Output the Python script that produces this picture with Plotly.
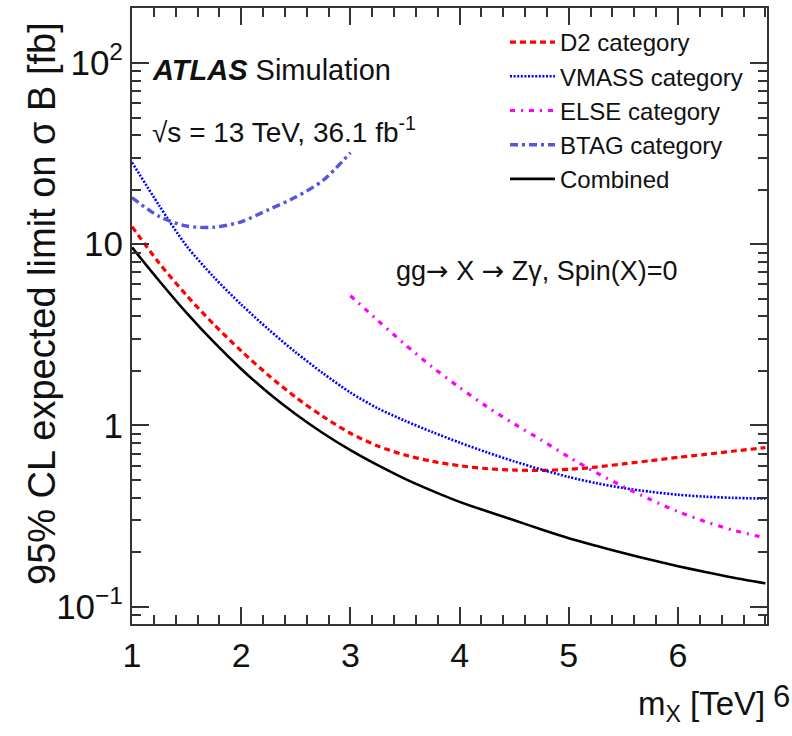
import plotly.graph_objects as go

# ---- data ----
mass_main = [1.0, 1.25, 1.5, 1.75, 2.0, 2.25, 2.5, 2.75, 3.0, 3.25, 3.5, 3.75, 4.0, 4.25,
             4.5, 4.75, 5.0, 5.25, 5.5, 5.75, 6.0, 6.25, 6.5, 6.8]
d2_limit = [12.5, 7.85, 5.22, 3.61, 2.58, 1.89, 1.43, 1.12, 0.906, 0.771, 0.687, 0.634, 0.60, 0.578,
            0.568, 0.565, 0.573, 0.59, 0.614, 0.64, 0.667, 0.693, 0.721, 0.755]
vmass_limit = [28.3, 16.3, 9.77, 6.58, 4.65, 3.39, 2.53, 1.94, 1.52, 1.245, 1.062, 0.92, 0.805, 0.711,
               0.634, 0.571, 0.52, 0.481, 0.452, 0.431, 0.415, 0.405, 0.399, 0.395]
combined_limit = [9.6, 6.27, 4.18, 2.88, 2.05, 1.51, 1.153, 0.906, 0.731, 0.604, 0.508, 0.436, 0.379, 0.3365,
                  0.300, 0.267, 0.239, 0.217, 0.198, 0.1815, 0.1675, 0.1556, 0.145, 0.1346]

mass_else = [3.0, 3.25, 3.5, 3.75, 4.0, 4.25, 4.5, 4.75, 5.0, 5.25, 5.5, 5.75, 6.0, 6.25, 6.5, 6.8]
else_limit = [5.2, 3.8, 2.8, 2.1, 1.62, 1.27, 1.02, 0.83, 0.67, 0.55, 0.46, 0.39, 0.335, 0.295, 0.265, 0.24]

mass_btag = [1.0, 1.25, 1.5, 1.75, 2.0, 2.25, 2.5, 2.75, 3.0]
btag_limit = [18.1, 14.2, 12.6, 12.4, 13.3, 15.5, 18.2, 22.5, 32.0]

x_ticks = [1, 2, 3, 4, 5, 6]
x_minor = [round(1 + 0.2 * k, 2) for k in range(0, 30)]
y_ticks = [0.1, 1, 10, 100]
y_tick_text = ["10<sup>\u22121</sup>", "1", "10", "10<sup>2</sup>"]
y_minor = [0.09] + [k / 10 for k in range(2, 10)] + list(range(2, 10)) + [k * 10 for k in range(2, 10)] + [200]

X_RANGE = [1, 6.815]
Y_RANGE = [-1.095, 2.303]

FONT = "Liberation Sans, Arial, Helvetica, sans-serif"
TICKC = "#333333"

fig = go.Figure()
fig.add_trace(go.Scatter(x=mass_main, y=d2_limit, mode="lines", name="D2 category",
                         line=dict(color="#ff0000", width=3.2, dash="6px,4px", shape="spline", smoothing=0.8)))
fig.add_trace(go.Scatter(x=mass_main, y=vmass_limit, mode="lines", name="VMASS category",
                         line=dict(color="#0000ff", width=2.6, dash="2px,1.6px", shape="spline", smoothing=0.8)))
fig.add_trace(go.Scatter(x=mass_else, y=else_limit, mode="lines", name="ELSE category",
                         line=dict(color="#ff00ff", width=3.2, dash="5px,6px,2px,6px", shape="spline", smoothing=0.8)))
fig.add_trace(go.Scatter(x=mass_btag, y=btag_limit, mode="lines", name="BTAG category",
                         line=dict(color="#5555dd", width=3.4, dash="8px,4px,3px,4px", shape="spline", smoothing=0.8)))
fig.add_trace(go.Scatter(x=mass_main, y=combined_limit, mode="lines", name="Combined",
                         line=dict(color="#000000", width=2.6, shape="spline", smoothing=0.8)))

fig.update_layout(template="none")

major_common = dict(showline=True, linecolor=TICKC, linewidth=2, mirror="allticks",
                    ticks="inside", ticklen=17, tickwidth=2, tickcolor=TICKC,
                    showgrid=False, zeroline=False)

fig.update_layout(
    xaxis=dict(range=X_RANGE, tickmode="array", tickvals=x_ticks, ticktext=[str(v) for v in x_ticks],
               tickfont=dict(size=34, family=FONT, color="#111"),
               minor=dict(tickmode="array", tickvals=x_minor, ticks="inside", ticklen=9,
                          tickwidth=1.5, tickcolor=TICKC, showgrid=False),
               **major_common),
    yaxis=dict(type="log", range=Y_RANGE, tickmode="array", tickvals=y_ticks, ticktext=y_tick_text,
               tickfont=dict(size=35, family=FONT, color="#111"),
               minor=dict(tickmode="array", tickvals=y_minor, ticks="inside", ticklen=9,
                          tickwidth=1.5, tickcolor=TICKC, showgrid=False),
               **major_common),
)

def px(xp):
    return (xp - 132) / 635.0

def py(yp):
    return (624 - yp) / 616.0

ARROW = '<span style="font-family:DejaVu Sans">\u2192</span>'

annotations = [
    dict(x=px(150), y=py(70), text="<b><i>ATLAS</i></b> Simulation", font=dict(size=29)),
    dict(x=px(150), y=py(130), text="\u221As = 13 TeV, 36.1 fb<sup>-1</sup>", font=dict(size=28)),
    dict(x=px(394), y=py(270), text="gg" + ARROW + " X " + ARROW + " Z\u03b3, Spin(X)=0", font=dict(size=27)),
]
for a in annotations:
    a.update(xref="paper", yref="paper", xanchor="left", yanchor="middle", showarrow=False)
    a["font"].update(family=FONT, color="#111")

annotations.append(dict(x=px(767), y=py(706), xref="paper", yref="paper", xanchor="right", yanchor="middle",
                        text="m<sub>X</sub> [TeV]", showarrow=False, font=dict(size=33, family=FONT, color="#111")))
annotations.append(dict(x=px(771), y=py(696), xref="paper", yref="paper", xanchor="left", yanchor="middle",
                        text="6", showarrow=False, font=dict(size=31, family=FONT, color="#111")))
annotations.append(dict(x=px(42), y=py(304), xref="paper", yref="paper", xanchor="center", yanchor="middle",
                        text="95% CL expected limit on \u03c3 B [fb]", textangle=-90, showarrow=False,
                        font=dict(size=38, family=FONT, color="#111")))

fig.update_layout(
    width=792, height=736,
    margin=dict(l=132, r=25, t=8, b=112),
    paper_bgcolor="white", plot_bgcolor="rgba(0,0,0,0)",
    showlegend=True,
    legend=dict(x=px(505), y=py(20), xanchor="left", yanchor="top",
                font=dict(size=24, family=FONT, color="#111"),
                bgcolor="rgba(0,0,0,0)", tracegroupgap=0, itemwidth=45),
    annotations=annotations,
)

fig.write_html("out.html")
